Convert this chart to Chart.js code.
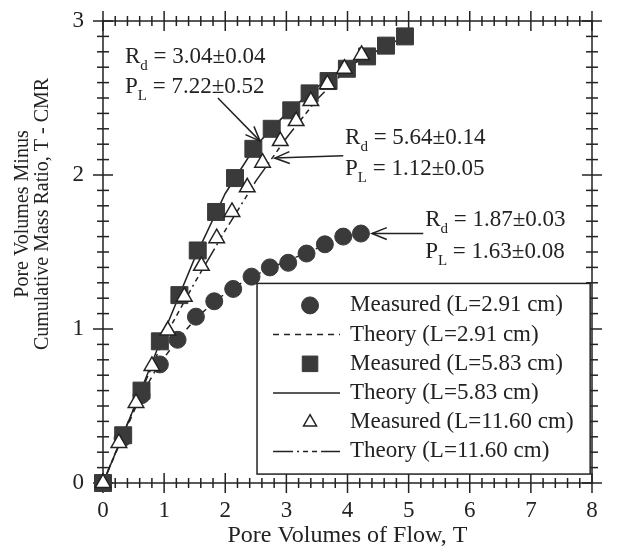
<!DOCTYPE html>
<html>
<head>
<meta charset="utf-8">
<script src="https://cdn.jsdelivr.net/npm/chart.js@4.4.0/dist/chart.umd.min.js"></script>
<style>
  html, body { margin: 0; padding: 0; background: #fff; }
  #wrap { width: 617px; height: 546px; position: relative; }
</style>
</head>
<body>
<div id="wrap"><canvas id="chart"></canvas></div>
<script>
// Measured points (T, T - CMR)
const circleT = [0, 0.32, 0.63, 0.93, 1.22, 1.52, 1.82, 2.13, 2.43, 2.73, 3.03, 3.33, 3.63, 3.93, 4.22];
const circleY = [0, 0.29, 0.57, 0.77, 0.93, 1.08, 1.18, 1.26, 1.34, 1.40, 1.43, 1.49, 1.55, 1.60, 1.62];

const squareT = [0, 0.33, 0.63, 0.93, 1.25, 1.55, 1.85, 2.16, 2.46, 2.76, 3.08, 3.38, 3.69, 3.99, 4.32, 4.63, 4.94];
const squareY = [0, 0.31, 0.60, 0.92, 1.22, 1.51, 1.76, 1.98, 2.17, 2.30, 2.42, 2.53, 2.61, 2.69, 2.77, 2.84, 2.90];

const triT = [0, 0.26, 0.54, 0.80, 1.06, 1.33, 1.61, 1.86, 2.11, 2.36, 2.61, 2.90, 3.16, 3.40, 3.67, 3.95, 4.23];
const triY = [0, 0.26, 0.52, 0.76, 0.99, 1.21, 1.41, 1.59, 1.76, 1.92, 2.08, 2.22, 2.35, 2.48, 2.59, 2.69, 2.78];

// Theory curves
const theory291T = [0, 0.3, 0.6, 0.9, 1.2, 1.5, 1.8, 2.1, 2.4, 2.7, 3.0, 3.3, 3.6, 3.9, 4.22];
const theory291Y = [0, 0.28, 0.55, 0.76, 0.92, 1.06, 1.17, 1.26, 1.33, 1.39, 1.44, 1.49, 1.54, 1.59, 1.62];

const theory583T = [0, 0.5, 1.0, 1.5, 2.0, 2.5, 3.0, 3.5, 4.0, 4.5, 4.94];
const theory583Y = [0, 0.48, 0.98, 1.46, 1.88, 2.19, 2.40, 2.57, 2.70, 2.81, 2.90];

const theory1160T = [0, 0.5, 1.0, 1.5, 2.0, 2.5, 3.0, 3.5, 4.0, 4.23];
const theory1160Y = [0, 0.48, 0.94, 1.30, 1.64, 1.96, 2.24, 2.49, 2.69, 2.77];

const xTicks = [0, 1, 2, 3, 4, 5, 6, 7, 8];
const yTicks = [0, 1, 2, 3];

const xTitle = 'Pore Volumes of Flow, T';
const yTitle = ['Pore Volumes Minus', 'Cumulative Mass Ratio, T - CMR'];

const legendLabels = [
  'Measured (L=2.91 cm)', 'Theory (L=2.91 cm)',
  'Measured (L=5.83 cm)', 'Theory (L=5.83 cm)',
  'Measured (L=11.60 cm)', 'Theory (L=11.60 cm)'
];

// fitted parameter labels: [R value, P value]
const fitLabels = [
  ['3.04\u00b10.04', '7.22\u00b10.52'],
  ['5.64\u00b10.14', '1.12\u00b10.05'],
  ['1.87\u00b10.03', '1.63\u00b10.08']
];

const ink = '#222';
const mark = '#3a3a3a';
const serif = "'Liberation Serif', 'Times New Roman', serif";

const pts = (xs, ys) => xs.map((v, i) => ({x: v, y: ys[i]}));

// annotation placement (data units): text anchor, arrow start, arrow end
const fitPlacement = [
  {tx: 0.36, ry: 2.73, py: 2.53, from: [1.88, 2.50], to: [2.57, 2.22]},
  {tx: 3.96, ry: 2.20, py: 2.00, from: [3.93, 2.125], to: [2.81, 2.11]},
  {tx: 5.27, ry: 1.67, py: 1.46, from: [5.24, 1.62], to: [4.40, 1.62]}
];

function strokeLine(ctx, x1, y1, x2, y2) {
  ctx.beginPath(); ctx.moveTo(x1, y1); ctx.lineTo(x2, y2); ctx.stroke();
}

const frameTicks = {
  id: 'frameTicks',
  beforeDatasetsDraw(chart) {
    const {ctx, chartArea: a, scales: {x, y}} = chart;
    ctx.save();
    ctx.strokeStyle = ink;
    ctx.lineWidth = 1.5;
    ctx.strokeRect(a.left, a.top, a.right - a.left, a.bottom - a.top);
    for (let i = 0; i <= 40; i++) {
      const px = x.getPixelForValue(i * 0.2);
      const len = i % 5 === 0 ? 10 : 5;
      strokeLine(ctx, px, a.bottom - len, px, a.bottom + len);
      strokeLine(ctx, px, a.top - len, px, a.top + len);
    }
    for (let i = 0; i <= 30; i++) {
      const py = y.getPixelForValue(i * 0.1);
      const len = i % 10 === 0 ? 10 : 6;
      strokeLine(ctx, a.left - len, py, a.left + len, py);
      strokeLine(ctx, a.right - len, py, a.right + len, py);
    }
    ctx.restore();
  },
  afterDraw(chart) {
    // two-line y title, sits a bit above the middle of the axis
    const {ctx, chartArea: a} = chart;
    ctx.save();
    ctx.translate(0, a.top + 193);
    ctx.rotate(-Math.PI / 2);
    ctx.fillStyle = ink;
    ctx.font = '20px ' + serif;
    ctx.textAlign = 'center';
    ctx.textBaseline = 'middle';
    ctx.fillText(yTitle[0], 0, 23);
    ctx.fillText(yTitle[1], 0, 43);
    ctx.restore();
  }
};

function subText(ctx, x, y, main, sub, rest) {
  ctx.font = '23px ' + serif;
  ctx.fillText(main, x, y);
  let w = ctx.measureText(main).width;
  ctx.font = '15px ' + serif;
  ctx.fillText(sub, x + w, y + 7);
  w += ctx.measureText(sub).width;
  ctx.font = '23px ' + serif;
  ctx.fillText(rest, x + w, y);
}

function arrow(ctx, x1, y1, x2, y2) {
  strokeLine(ctx, x1, y1, x2, y2);
  const ang = Math.atan2(y2 - y1, x2 - x1);
  const len = 16, spread = 0.38;
  ctx.beginPath();
  ctx.moveTo(x2 - len * Math.cos(ang - spread), y2 - len * Math.sin(ang - spread));
  ctx.lineTo(x2, y2);
  ctx.lineTo(x2 - len * Math.cos(ang + spread), y2 - len * Math.sin(ang + spread));
  ctx.stroke();
}

const fitNotes = {
  id: 'fitNotes',
  afterDatasetsDraw(chart) {
    const {ctx, scales: {x, y}} = chart;
    ctx.save();
    ctx.fillStyle = ink;
    ctx.strokeStyle = ink;
    ctx.lineWidth = 1.5;
    ctx.textBaseline = 'alphabetic';
    fitPlacement.forEach((p, i) => {
      const tx = x.getPixelForValue(p.tx);
      subText(ctx, tx, y.getPixelForValue(p.ry), 'R', 'd', ' = ' + fitLabels[i][0]);
      subText(ctx, tx, y.getPixelForValue(p.py), 'P', 'L', ' = ' + fitLabels[i][1]);
      arrow(ctx, x.getPixelForValue(p.from[0]), y.getPixelForValue(p.from[1]),
                 x.getPixelForValue(p.to[0]), y.getPixelForValue(p.to[1]));
    });
    ctx.restore();
  }
};

const boxLegend = {
  id: 'boxLegend',
  afterDatasetsDraw(chart) {
    const {ctx, scales: {x, y}} = chart;
    const left = x.getPixelForValue(2.52), right = x.getPixelForValue(7.97);
    const top = y.getPixelForValue(1.296), bottom = y.getPixelForValue(0.058);
    ctx.save();
    ctx.fillStyle = '#fff';
    ctx.fillRect(left, top, right - left, bottom - top);
    ctx.strokeStyle = ink;
    ctx.lineWidth = 1.5;
    ctx.strokeRect(left, top, right - left, bottom - top);
    const rowH = 29.2;
    const symX = left + 53, lineL = left + 16, lineR = left + 83, textX = left + 93;
    chart.data.datasets.forEach((ds, i) => {
      const cy = top + 22 + i * rowH;
      if (ds.showLine) {
        ctx.strokeStyle = ds.borderColor;
        ctx.lineWidth = ds.borderWidth;
        ctx.setLineDash(ds.borderDash || []);
        strokeLine(ctx, lineL, cy, lineR, cy);
        ctx.setLineDash([]);
      } else {
        ctx.fillStyle = ds.backgroundColor;
        ctx.strokeStyle = ds.borderColor;
        ctx.lineWidth = ds.borderWidth;
        ctx.beginPath();
        const r = ds.legendRadius;
        if (ds.pointStyle === 'circle') {
          ctx.arc(symX, cy, r, 0, Math.PI * 2);
        } else if (ds.pointStyle === 'rect') {
          const h = r * Math.SQRT1_2;
          ctx.rect(symX - h, cy - h, 2 * h, 2 * h);
        } else {
          ctx.moveTo(symX, cy - r);
          ctx.lineTo(symX + r * 0.866, cy + r / 2);
          ctx.lineTo(symX - r * 0.866, cy + r / 2);
          ctx.closePath();
        }
        ctx.fill();
        ctx.stroke();
      }
      ctx.fillStyle = ink;
      ctx.font = '23px ' + serif;
      ctx.textBaseline = 'middle';
      ctx.fillText(legendLabels[i], textX, cy);
    });
    ctx.restore();
  }
};

Chart.defaults.font.family = serif;
Chart.defaults.color = ink;

new Chart(document.getElementById('chart'), {
  type: 'scatter',
  data: {
    datasets: [
      {
        label: legendLabels[0], data: pts(circleT, circleY),
        pointStyle: 'circle', pointRadius: 8.5, legendRadius: 8.5,
        backgroundColor: mark, borderColor: mark, borderWidth: 1,
        showLine: false, clip: false, order: 5
      },
      {
        label: legendLabels[1], data: pts(theory291T, theory291Y),
        showLine: true, pointRadius: 0, borderColor: ink, borderWidth: 1.5,
        borderDash: [6, 5], clip: false, order: 8
      },
      {
        label: legendLabels[2], data: pts(squareT, squareY),
        pointStyle: 'rect', pointRadius: 12, legendRadius: 11,
        backgroundColor: mark, borderColor: mark, borderWidth: 1,
        showLine: false, clip: false, order: 4
      },
      {
        label: legendLabels[3], data: pts(theory583T, theory583Y),
        showLine: true, pointRadius: 0, borderColor: ink, borderWidth: 1.5,
        clip: false, order: 7
      },
      {
        label: legendLabels[4], data: pts(triT, triY),
        pointStyle: 'triangle', pointRadius: 9, legendRadius: 7.5,
        backgroundColor: '#fff', borderColor: ink, borderWidth: 1.5,
        showLine: false, clip: false, order: 3
      },
      {
        label: legendLabels[5], data: pts(theory1160T, theory1160Y),
        showLine: true, pointRadius: 0, borderColor: ink, borderWidth: 1.5,
        borderDash: [20, 4, 2, 4, 5, 4, 5, 4], clip: false, order: 6
      }
    ]
  },
  options: {
    responsive: true,
    maintainAspectRatio: false,
    animation: false,
    layout: { padding: { top: 21, right: 25, left: 0, bottom: 0 } },
    plugins: {
      legend: { display: false },
      tooltip: { enabled: false }
    },
    scales: {
      x: {
        type: 'linear', min: 0, max: 8,
        afterBuildTicks: (s) => { s.ticks = xTicks.map(v => ({value: v})); },
        afterFit: (s) => { s.height = 63; s.paddingLeft = 0; s.paddingRight = 0; },
        grid: { display: false, drawTicks: false },
        border: { display: false },
        ticks: { padding: 14, font: { size: 23 }, color: ink },
        title: {
          display: true, text: xTitle,
          font: { size: 24, lineHeight: 0.85 }, padding: { top: 0, bottom: 0 }, color: ink
        }
      },
      y: {
        type: 'linear', min: 0, max: 3,
        afterBuildTicks: (s) => { s.ticks = yTicks.map(v => ({value: v})); },
        afterFit: (s) => { s.width = 103; s.paddingTop = 0; s.paddingBottom = 0; },
        grid: { display: false, drawTicks: false },
        border: { display: false },
        ticks: { padding: 19, font: { size: 23 }, color: ink },
        title: { display: false }
      }
    }
  },
  plugins: [frameTicks, fitNotes, boxLegend]
});
</script>
</body>
</html>
